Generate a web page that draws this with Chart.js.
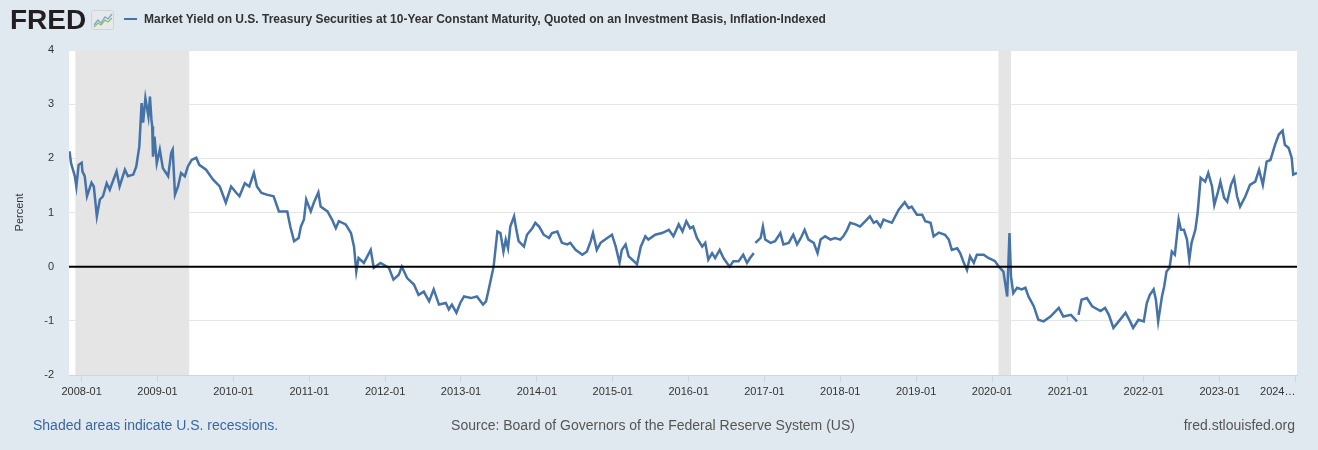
<!DOCTYPE html>
<html lang="en">
<head>
    <meta charset="UTF-8">
    <title>FRED - 10-Year TIPS Yield</title>
    <script src="https://cdn.jsdelivr.net/npm/chart.js"></script>
    <style>
        html, body { margin: 0; padding: 0; }
        body {
            width: 1318px; height: 450px; overflow: hidden;
            background: #e1e9f0; position: relative;
            font-family: "Liberation Sans", Arial, sans-serif;
        }
        #chart { position: absolute; left: 0; top: 0; }
        .logo { position: absolute; left: 10px; top: 6px; font: bold 28px/28px "Liberation Sans", Arial, sans-serif; color: #231f20; letter-spacing: 0; }
        .logo-icon { position: absolute; left: 91px; top: 10px; }
        .legend-line { position: absolute; left: 124px; top: 18px; width: 13px; height: 2px; background: #4572a7; }
        .title { position: absolute; left: 144px; top: 12px; font: bold 12px/14px "Liberation Sans", Arial, sans-serif; color: #333; white-space: nowrap; }
        .foot { position: absolute; top: 416px; font-size: 14px; line-height: 18px; white-space: nowrap; }
        .foot.left { left: 33px; color: #37679e; }
        .foot.mid { left: 0; width: 1306px; text-align: center; color: #555; }
        .foot.right { right: 23px; color: #555; }
    </style>
</head>
<body>
    <canvas id="chart" width="1318" height="450"></canvas>
    <div class="logo">FRED</div>
    <svg class="logo-icon" width="23" height="20" viewBox="0 0 23 20">
        <rect x="0.5" y="0.5" width="22" height="19" rx="2" fill="#e6e8ea" stroke="#d0d4d8"/>
        <polyline points="3,15 7,10 10,13 14,7 17,9 21,4" fill="none" stroke="#7aa6d6" stroke-width="1.3"/>
        <polyline points="3,17 7,13 10,15 14,10 17,12 21,8" fill="none" stroke="#8cbf5a" stroke-width="1.3"/>
    </svg>
    <div class="legend-line"></div>
    <div class="title">Market Yield on U.S. Treasury Securities at 10-Year Constant Maturity, Quoted on an Investment Basis, Inflation-Indexed</div>
    <div class="foot left">Shaded areas indicate U.S. recessions.</div>
    <div class="foot mid">Source: Board of Governors of the Federal Reserve System (US)</div>
    <div class="foot right">fred.stlouisfed.org</div>

    <script>
        const obsYears = [
            2007.84, 2007.86, 2007.91, 2007.93, 2007.96, 2008.00, 2008.01, 2008.04, 2008.07, 2008.13,
            2008.16, 2008.20, 2008.24, 2008.28, 2008.33, 2008.37, 2008.42, 2008.46, 2008.50, 2008.57,
            2008.61, 2008.68, 2008.72, 2008.76, 2008.79, 2008.81, 2008.84, 2008.88, 2008.90, 2008.92,
            2008.93, 2008.94, 2008.96, 2008.99, 2009.03, 2009.07, 2009.14, 2009.18, 2009.20, 2009.23,
            2009.27, 2009.31, 2009.36, 2009.40, 2009.45, 2009.51, 2009.55, 2009.64, 2009.73, 2009.82,
            2009.90, 2009.97, 2010.04, 2010.08, 2010.15, 2010.21, 2010.27, 2010.31, 2010.37, 2010.44,
            2010.53, 2010.60, 2010.71, 2010.75, 2010.80, 2010.86, 2010.89, 2010.93, 2010.96, 2011.02,
            2011.06, 2011.12, 2011.15, 2011.24, 2011.30, 2011.35, 2011.39, 2011.48, 2011.55, 2011.59,
            2011.62, 2011.65, 2011.72, 2011.81, 2011.85, 2011.94, 2012.05, 2012.11, 2012.18, 2012.22,
            2012.29, 2012.38, 2012.44, 2012.51, 2012.58, 2012.64, 2012.71, 2012.80, 2012.84, 2012.88,
            2012.94, 2012.99, 2013.04, 2013.13, 2013.21, 2013.29, 2013.33, 2013.37, 2013.43, 2013.48,
            2013.52, 2013.56, 2013.59, 2013.62, 2013.65, 2013.70, 2013.73, 2013.76, 2013.83, 2013.87,
            2013.94, 2013.98, 2014.03, 2014.09, 2014.16, 2014.20, 2014.27, 2014.33, 2014.40, 2014.44,
            2014.51, 2014.60, 2014.66, 2014.71, 2014.74, 2014.79, 2014.84, 2014.90, 2014.99, 2015.04,
            2015.09, 2015.12, 2015.17, 2015.21, 2015.28, 2015.32, 2015.37, 2015.43, 2015.47, 2015.56,
            2015.65, 2015.74, 2015.80, 2015.87, 2015.92, 2015.97, 2016.02, 2016.06, 2016.11, 2016.18,
            2016.22, 2016.26, 2016.31, 2016.35, 2016.41, 2016.46, 2016.54, 2016.59, 2016.66, 2016.72,
            2016.77, 2016.81, 2016.86, 2016.87, 2016.88, 2016.95, 2016.98, 2017.01, 2017.08, 2017.14,
            2017.21, 2017.25, 2017.32, 2017.38, 2017.43, 2017.48, 2017.53, 2017.58, 2017.65, 2017.70,
            2017.74, 2017.80, 2017.87, 2017.93, 2018.00, 2018.04, 2018.09, 2018.13, 2018.20, 2018.26,
            2018.33, 2018.39, 2018.44, 2018.48, 2018.53, 2018.57, 2018.62, 2018.68, 2018.77, 2018.85,
            2018.90, 2018.94, 2019.01, 2019.08, 2019.12, 2019.19, 2019.23, 2019.30, 2019.38, 2019.43,
            2019.47, 2019.54, 2019.58, 2019.62, 2019.67, 2019.71, 2019.76, 2019.80, 2019.89, 2019.95,
            2020.00, 2020.04, 2020.09, 2020.15, 2020.20, 2020.23, 2020.25, 2020.28, 2020.33, 2020.39,
            2020.44, 2020.48, 2020.55, 2020.61, 2020.68, 2020.77, 2020.88, 2020.94, 2021.04, 2021.12,
            2021.13, 2021.14, 2021.18, 2021.25, 2021.32, 2021.43, 2021.49, 2021.54, 2021.60, 2021.67,
            2021.76, 2021.82, 2021.86, 2021.93, 2022.00, 2022.04, 2022.08, 2022.13, 2022.16, 2022.19,
            2022.24, 2022.27, 2022.30, 2022.34, 2022.37, 2022.41, 2022.46, 2022.49, 2022.53, 2022.57,
            2022.60, 2022.63, 2022.68, 2022.71, 2022.75, 2022.81, 2022.85, 2022.90, 2022.93, 2022.98,
            2023.01, 2023.06, 2023.10, 2023.15, 2023.19, 2023.23, 2023.27, 2023.34, 2023.40, 2023.47,
            2023.52, 2023.57, 2023.62, 2023.67, 2023.73, 2023.78, 2023.83, 2023.86, 2023.91, 2023.95,
            2023.97, 2024.02
        ];

        // Yield in percent (null = missing observation)
        const yieldPct = [
            2.13, 1.91, 1.67, 1.48, 1.88, 1.92, 1.76, 1.67, 1.30, 1.55,
            1.48, 0.93, 1.24, 1.30, 1.54, 1.42, 1.61, 1.76, 1.48, 1.79,
            1.67, 1.70, 1.85, 2.22, 3.02, 2.66, 3.11, 2.77, 3.14, 2.71,
            2.59, 2.03, 2.40, 1.91, 2.16, 1.82, 1.67, 2.10, 2.16, 1.33,
            1.48, 1.73, 1.67, 1.85, 1.97, 2.01, 1.88, 1.79, 1.61, 1.48,
            1.18, 1.48, 1.36, 1.30, 1.54, 1.48, 1.73, 1.48, 1.36, 1.33,
            1.30, 1.02, 1.02, 0.74, 0.47, 0.53, 0.74, 0.87, 1.24, 1.02,
            1.18, 1.37, 1.11, 1.02, 0.87, 0.71, 0.84, 0.78, 0.62, 0.37,
            -0.09, 0.16, 0.07, 0.31, -0.02, 0.07, -0.02, -0.24, -0.15, 0.00,
            -0.21, -0.33, -0.52, -0.46, -0.64, -0.42, -0.70, -0.67, -0.79, -0.70,
            -0.85, -0.67, -0.55, -0.58, -0.55, -0.70, -0.64, -0.39, 0.00, 0.65,
            0.62, 0.28, 0.50, 0.34, 0.74, 0.93, 0.68, 0.47, 0.37, 0.59,
            0.71, 0.81, 0.74, 0.59, 0.53, 0.62, 0.65, 0.44, 0.41, 0.44,
            0.31, 0.22, 0.28, 0.47, 0.62, 0.31, 0.44, 0.50, 0.59, 0.37,
            0.07, 0.31, 0.41, 0.19, 0.10, 0.04, 0.37, 0.56, 0.50, 0.59,
            0.62, 0.68, 0.56, 0.78, 0.65, 0.84, 0.71, 0.74, 0.53, 0.37,
            0.44, 0.13, 0.25, 0.16, 0.31, 0.16, 0.00, 0.10, 0.10, 0.22,
            0.07, 0.16, 0.25, null, 0.44, 0.53, 0.74, 0.50, 0.44, 0.47,
            0.62, 0.41, 0.44, 0.59, 0.41, 0.53, 0.68, 0.50, 0.44, 0.25,
            0.50, 0.56, 0.50, 0.53, 0.50, 0.56, 0.68, 0.81, 0.78, 0.74,
            0.84, 0.93, 0.81, 0.84, 0.74, 0.87, 0.84, 0.81, 1.05, 1.19,
            1.08, 1.11, 0.96, 0.96, 0.84, 0.81, 0.56, 0.63, 0.59, 0.50,
            0.31, 0.34, 0.25, 0.10, -0.06, 0.19, 0.07, 0.22, 0.22, 0.16,
            0.13, 0.10, 0.00, -0.09, -0.55, 0.62, -0.18, -0.49, -0.39, -0.42,
            -0.39, -0.55, -0.73, -0.98, -1.01, -0.92, -0.76, -0.92, -0.89, -1.01,
            null, -0.89, -0.61, -0.58, -0.73, -0.82, -0.76, -0.89, -1.13, -1.01,
            -0.85, -1.01, -1.13, -0.98, -1.01, -0.67, -0.52, -0.42, -0.61, -1.01,
            -0.55, -0.36, -0.09, -0.02, 0.28, 0.22, 0.87, 0.68, 0.68, 0.50,
            0.13, 0.44, 0.68, 0.99, 1.64, 1.57, 1.73, 1.48, 1.14, 1.39,
            1.57, 1.27, 1.20, 1.51, 1.64, 1.30, 1.11, 1.30, 1.51, 1.57,
            1.79, 1.51, 1.94, 1.97, 2.25, 2.44, 2.51, 2.25, 2.19, 2.01,
            1.70, 1.73
        ];

        // US recessions (decimal years)
        const recessionStart = [2007.917, 2020.085];
        const recessionEnd = [2009.417, 2020.25];

        const yearTicks = [2008, 2009, 2010, 2011, 2012, 2013, 2014, 2015, 2016,
                           2017, 2018, 2019, 2020, 2021, 2022, 2023, 2024];
        const xMin = 2007.833;
        const xMax = 2024.02;

        const points = obsYears.map((yr, i) => ({ x: yr, y: yieldPct[i] }));

        const fredPlugin = {
            id: 'fredDecor',
            beforeDraw(chart) {
                const { ctx, chartArea: a } = chart;
                ctx.save();
                ctx.fillStyle = '#ffffff';
                ctx.fillRect(a.left, a.top, a.right - a.left, a.bottom - a.top);
                ctx.restore();
            },
            beforeDatasetsDraw(chart) {
                const { ctx, chartArea: a, scales: { x } } = chart;
                ctx.save();
                ctx.fillStyle = '#e5e5e5';
                recessionStart.forEach((s, i) => {
                    const x0 = Math.max(x.getPixelForValue(s), a.left);
                    const x1 = Math.min(x.getPixelForValue(recessionEnd[i]), a.right);
                    ctx.fillRect(x0, a.top, x1 - x0, a.bottom - a.top);
                });
                ctx.restore();
            },
            afterDatasetsDraw(chart) {
                const { ctx, chartArea: a, scales: { y } } = chart;
                const y0 = y.getPixelForValue(0);
                ctx.save();
                ctx.strokeStyle = '#000000';
                ctx.lineWidth = 2;
                ctx.beginPath();
                ctx.moveTo(a.left, y0);
                ctx.lineTo(a.right, y0);
                ctx.stroke();
                ctx.restore();
            }
        };

        new Chart(document.getElementById('chart'), {
            type: 'line',
            data: {
                datasets: [{
                    data: points,
                    borderColor: '#4572a7',
                    borderWidth: 2.5,
                    pointRadius: 0,
                    tension: 0,
                    spanGaps: false
                }]
            },
            options: {
                responsive: false,
                animation: false,
                parsing: false,
                layout: { padding: { top: 50, right: 21, bottom: 45, left: 0 } },
                plugins: {
                    legend: { display: false },
                    tooltip: { enabled: false }
                },
                scales: {
                    x: {
                        type: 'linear',
                        min: xMin,
                        max: xMax,
                        afterBuildTicks: scale => {
                            scale.ticks = [xMin].concat(yearTicks).map(v => ({ value: v }));
                        },
                        afterFit: scale => { scale.height = 30; },
                        ticks: {
                            autoSkip: false,
                            maxRotation: 0,
                            align: 'inner',
                            padding: 3,
                            color: '#333',
                            font: { family: 'Liberation Sans', size: 11 },
                            callback: (value, index) => {
                                if (index === 0) return '';
                                if (value === 2024) return '2024\u2026';
                                return value + '-01';
                            }
                        },
                        grid: {
                            drawOnChartArea: false,
                            drawTicks: true,
                            tickLength: 7,
                            color: c => (c.index === 0 ? 'rgba(0,0,0,0)' : '#ccd6eb')
                        },
                        border: { display: true, color: '#ccd6eb', width: 1 }
                    },
                    y: {
                        min: -2,
                        max: 4,
                        afterFit: scale => { scale.width = 69; },
                        ticks: {
                            stepSize: 1,
                            padding: 15,
                            color: '#333',
                            font: { family: 'Liberation Sans', size: 11 }
                        },
                        grid: { color: '#e6e6e6', drawTicks: false },
                        border: { display: false },
                        title: {
                            display: true,
                            text: 'Percent',
                            color: '#333',
                            padding: { top: 13, bottom: 0 },
                            font: { family: 'Liberation Sans', size: 11 }
                        }
                    }
                }
            },
            plugins: [fredPlugin]
        });
    </script>
</body>
</html>
